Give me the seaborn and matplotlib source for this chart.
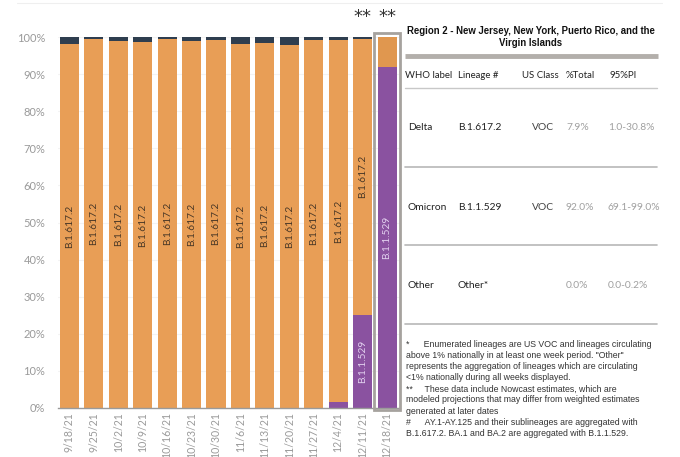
import matplotlib
matplotlib.use("Agg")
import matplotlib.pyplot as plt
import seaborn as sns
import numpy as np
from matplotlib.patches import Rectangle
from matplotlib.lines import Line2D

# ---------------- data ----------------
dates = ["9/18/21", "9/25/21", "10/2/21", "10/9/21", "10/16/21", "10/23/21", "10/30/21",
         "11/6/21", "11/13/21", "11/20/21", "11/27/21", "12/4/21", "12/11/21", "12/18/21"]
omicron = [0, 0, 0, 0, 0, 0, 0, 0, 0, 0, 0, 1.5, 25.2, 92.0]
delta = [98.0, 99.5, 99.0, 98.7, 99.5, 99.0, 99.3, 98.0, 98.5, 97.8, 99.3, 97.8, 74.2, 7.9]
other = [2.0, 0.5, 1.0, 1.3, 0.5, 1.0, 0.7, 2.0, 1.5, 2.2, 0.7, 0.7, 0.6, 0.0]
delta_label = "B.1.617.2"
omicron_label = "B.1.1.529"
nowcast_marks = ["12/11/21", "12/18/21"]
yticks = [0, 10, 20, 30, 40, 50, 60, 70, 80, 90, 100]

table_title = "Region 2 - New Jersey, New York, Puerto Rico, and the\nVirgin Islands"
table_header = ["WHO label", "Lineage #", "US Class", "%Total", "95%PI"]
who_labels = ["Delta", "Omicron", "Other"]
lineages = ["B.1.617.2", "B.1.1.529", "Other*"]
us_class = ["VOC", "VOC", ""]
pct_total = ["7.9%", "92.0%", "0.0%"]
pi95 = ["1.0-30.8%", "69.1-99.0%", "0.0-0.2%"]
footnote = ("*      Enumerated lineages are US VOC and lineages circulating\n"
            "above 1% nationally in at least one week period. \"Other\"\n"
            "represents the aggregation of lineages which are circulating\n"
            "<1% nationally during all weeks displayed.\n"
            "**     These data include Nowcast estimates, which are\n"
            "modeled projections that may differ from weighted estimates\n"
            "generated at later dates\n"
            "#      AY.1-AY.125 and their sublineages are aggregated with\n"
            "B.1.617.2. BA.1 and BA.2 are aggregated with B.1.1.529.")

# ---------------- style ----------------
sns.set_theme(style="white")
plt.rcParams["font.family"] = ["Lato", "DejaVu Sans"]

C_ORANGE = "#E89E56"
C_ORANGE_LAST = "#E0974F"
C_PURPLE = "#8A52A0"
C_DARK = "#2F3E4F"

fig = plt.figure(figsize=(6.8, 4.57), dpi=100)
ax = fig.add_axes([57.7 / 680, 49 / 457, 342.3 / 680, 371 / 457])

n = len(dates)
cum_all = [o + d + t for o, d, t in zip(omicron, delta, other)]
cum_od = [o + d for o, d in zip(omicron, delta)]

orange_pal = [C_ORANGE] * (n - 1) + [C_ORANGE_LAST]
W = 0.78
sns.barplot(x=dates, y=cum_all, hue=dates, palette=[C_DARK] * n, legend=False,
            width=W, saturation=1, ax=ax, order=dates, hue_order=dates)
sns.barplot(x=dates, y=cum_od, hue=dates, palette=orange_pal, legend=False,
            width=W, saturation=1, ax=ax, order=dates, hue_order=dates)
sns.barplot(x=dates, y=omicron, hue=dates, palette=[C_PURPLE] * n, legend=False,
            width=W, saturation=1, ax=ax, order=dates, hue_order=dates)
for p in ax.patches:
    p.set_linewidth(0)

ax.set_xlim(-0.48, n - 1 + 0.53)
ax.set_ylim(0, 100)
ax.set_yticks(yticks)
ax.set_yticklabels([f"{v}%" for v in yticks])
ax.set_xlabel("")
ax.set_ylabel("")
ax.tick_params(axis="y", length=0, labelsize=8, labelcolor="#9a9a9a", pad=9)
ax.tick_params(axis="x", length=0, labelsize=7.6, labelcolor="#9a9a9a", rotation=90, pad=3)
for s in ["top", "right", "left"]:
    ax.spines[s].set_visible(False)
ax.spines["bottom"].set_color("#9a9a9a")
ax.spines["bottom"].set_linewidth(1.0)
ax.yaxis.grid(True, color="#f3f3f3", linewidth=0.8)
ax.set_axisbelow(True)

# segment labels
for i in range(n):
    if delta[i] > 10:
        ax.text(i, omicron[i] + delta[i] / 2, delta_label, rotation=90, ha="center", va="center",
                fontsize=7.3, color="#4a3826")
    if omicron[i] > 10:
        ax.text(i, omicron[i] / 2, omicron_label, rotation=90, ha="center", va="center",
                fontsize=7.3, color="#e2d0ef")

# nowcast markers
for d in nowcast_marks:
    i = dates.index(d)
    ax.text(i, 105.4, "**", ha="center", va="center", fontsize=13, color="#333333",
            family="DejaVu Sans", clip_on=False)

# highlight box around last bar
ax.add_patch(Rectangle((n - 1 - 0.53, -0.6), 1.06, 101.7, fill=False, edgecolor="#a6a29e",
                       linewidth=2, clip_on=False, zorder=5))

# ---------------- table panel (pixel coordinates) ----------------
tx = fig.add_axes([0, 0, 1, 1])
tx.set_xlim(0, 680)
tx.set_ylim(457, 0)
tx.set_axis_off()
tx.patch.set_alpha(0)

tx.add_line(Line2D([17, 662], [3, 3], color="#efefef", linewidth=0.8))

tx.text(531, 37, table_title, ha="center", va="center", fontsize=6.95, fontweight="bold",
        family="Liberation Sans", color="#111111", linespacing=1.15)
tx.add_line(Line2D([405, 658], [55.5, 55.5], color="#b3afab", linewidth=3.5, solid_capstyle="butt"))

col_x = [405, 458, 522, 566, 610]
for x, h in zip(col_x, table_header):
    tx.text(x, 75, h, ha="left", va="center", fontsize=6.9, color="#222222")
tx.add_line(Line2D([405, 657], [88, 88], color="#c8c8c8", linewidth=1))

row_y = [128, 207, 286]
sep_y = [167, 245, 324]
for k in range(3):
    y = row_y[k]
    tx.text(408, y, who_labels[k], ha="left", va="center", fontsize=7.4, color="#222222")
    tx.text(458, y, lineages[k], ha="left", va="center", fontsize=7.4, color="#222222")
    tx.text(532, y, us_class[k], ha="left", va="center", fontsize=7.4, color="#444444")
    tx.text(566, y, pct_total[k], ha="left", va="center", fontsize=7.4, color="#a0a0a0")
    tx.text(608, y, pi95[k], ha="left", va="center", fontsize=7.4, color="#a0a0a0")
    tx.add_line(Line2D([405, 657], [sep_y[k], sep_y[k]], color="#b8b8b8", linewidth=1.2))

tx.text(406, 340, footnote, ha="left", va="top", fontsize=6.3, family="Liberation Sans",
        color="#333333", linespacing=1.3)

fig.savefig("out.png", dpi=100)
